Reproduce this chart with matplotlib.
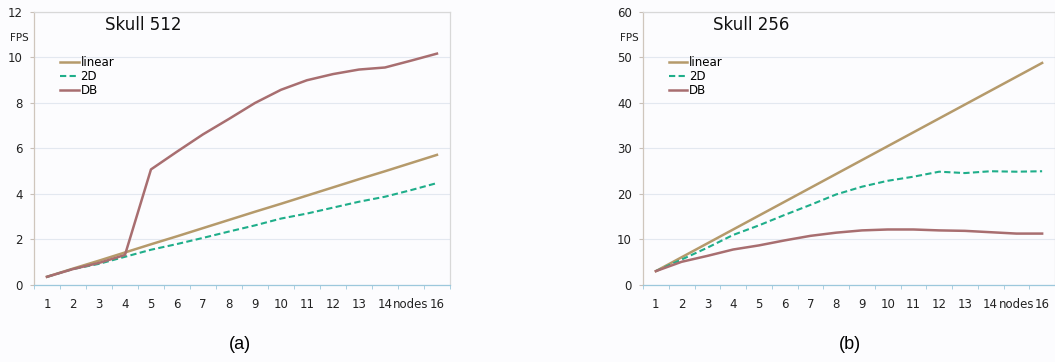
import numpy as np
from matplotlib import pyplot as plt

categories = ['1', '2', '3', '4', '5', '6', '7', '8', '9', '10', '11', '12', '13', '14', 'nodes', '16']

# Skull 512
a_linear = [0.36, 0.72, 1.07, 1.43, 1.79, 2.14, 2.50, 2.86, 3.22, 3.57, 3.93, 4.29, 4.65, 5.00, 5.36, 5.72]
a_2d = [0.36, 0.70, 0.93, 1.24, 1.55, 1.80, 2.07, 2.35, 2.62, 2.92, 3.14, 3.40, 3.66, 3.88, 4.17, 4.48]
a_db = [0.36, 0.70, 0.97, 1.32, 5.08, 5.86, 6.62, 7.30, 8.00, 8.58, 9.00, 9.27, 9.47, 9.56, 9.86, 10.17]

# Skull 256
b_linear = [3.05, 6.10, 9.15, 12.2, 15.25, 18.3, 21.35, 24.4, 27.45, 30.5, 33.55, 36.6, 39.65, 42.7, 45.75, 48.8]
b_2d = [3.05, 5.6, 8.2, 11.0, 13.1, 15.4, 17.6, 19.9, 21.6, 22.9, 23.8, 24.9, 24.6, 25.0, 24.9, 25.0]
b_db = [3.05, 5.1, 6.4, 7.8, 8.7, 9.8, 10.8, 11.5, 12.0, 12.2, 12.2, 12.0, 11.9, 11.6, 11.3, 11.3]

BG = '#fcfcfe'
C_LIN = '#b59a6b'
C_2D = '#1fae8a'
C_DB = '#a86e70'


def draw(ax, title, lin, d2, db, ymax, ystep):
    x = np.arange(len(categories))
    ax.set_facecolor(BG)
    ax.plot(x, lin, color=C_LIN, lw=1.8, label='linear')
    ax.plot(x, d2, color=C_2D, lw=1.5, ls=(0, (3, 1.6)), label='2D')
    ax.plot(x, db, color=C_DB, lw=1.8, label='DB')
    ax.set_xlim(-0.5, len(categories) - 0.5)
    ax.set_ylim(0, ymax)
    ax.set_yticks(np.arange(0, ymax + 1, ystep))
    ax.set_xticks(x)
    ax.set_xticklabels(categories)
    ax.set_xticks(np.arange(-0.5, len(categories)), minor=True)
    ax.tick_params(axis='x', which='major', length=0, pad=9, labelsize=8.5, colors='#222222')
    ax.tick_params(axis='x', which='minor', length=3, color='#9cc8dc', direction='out')
    ax.tick_params(axis='y', length=3, color='#c8c0b8', labelsize=8.5, pad=5)
    ax.tick_params(axis='y', labelcolor='#222222')
    ax.grid(axis='y', color='#e3e8f0', lw=0.8)
    ax.set_axisbelow(True)
    ax.spines['bottom'].set_color('#9cc8dc')
    ax.spines['left'].set_color('#cfc6bd')
    ax.spines['top'].set_color('#d8d8d8')
    ax.spines['right'].set_color('#d8d8d8')
    for s in ax.spines.values():
        s.set_linewidth(0.9)
    ax.text(0.17, 0.952, title, transform=ax.transAxes, fontsize=12, va='center', ha='left', color='#111111')
    ax.text(-0.034, 0.905, 'FPS', transform=ax.transAxes, fontsize=7.5, va='center', ha='center', color='#222222')
    ax.legend(loc='upper left', bbox_to_anchor=(0.062, 0.84), frameon=False, fontsize=8.5,
              handlelength=1.6, handletextpad=0.15, labelspacing=0.1, borderpad=0, borderaxespad=0)


def main():
    fig = plt.figure(figsize=(10.55, 3.62), dpi=100, facecolor=BG)
    ax1 = fig.add_axes([0.0322, 0.2127, 0.3943, 0.7542])
    ax2 = fig.add_axes([0.6095, 0.2127, 0.3905, 0.7542])
    draw(ax1, 'Skull 512', a_linear, a_2d, a_db, 12, 2)
    draw(ax2, 'Skull 256', b_linear, b_2d, b_db, 60, 10)
    fig.text(0.2275, 0.047, '(a)', ha='center', va='center', fontsize=13, family='Liberation Sans')
    fig.text(0.806, 0.047, '(b)', ha='center', va='center', fontsize=13, family='Liberation Sans')
    fig.savefig('out.png', dpi=100, facecolor=BG)
    plt.close()


if __name__ == '__main__':
    main()
